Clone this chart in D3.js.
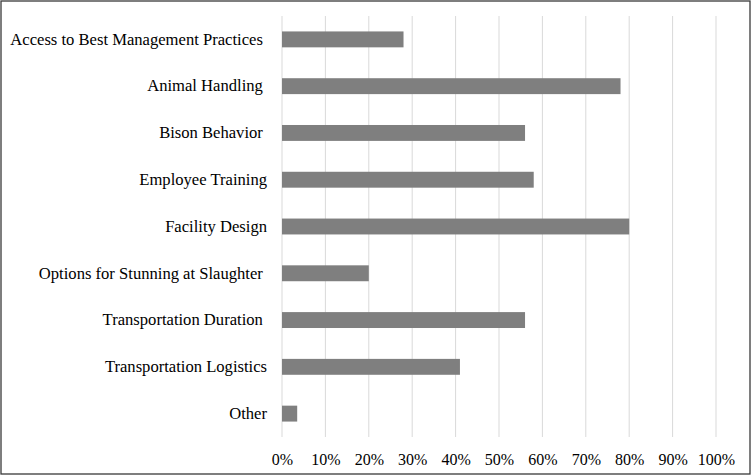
<!DOCTYPE html>
<html>
<head>
<meta charset="utf-8">
<script src="https://cdn.jsdelivr.net/npm/d3@7"></script>
<style>
  body { margin: 0; background: #fff; }
</style>
</head>
<body>
<div id="chart"></div>
<script>
var categories = [
  "Access to Best Management Practices ",
  "Animal Handling ",
  "Bison Behavior ",
  "Employee Training",
  "Facility Design",
  "Options for Stunning at Slaughter ",
  "Transportation Duration ",
  "Transportation Logistics",
  "Other"
];
var values = [0.28, 0.78, 0.56, 0.58, 0.80, 0.20, 0.56, 0.41, 0.035];
var tickValues = [0, 0.1, 0.2, 0.3, 0.4, 0.5, 0.6, 0.7, 0.8, 0.9, 1.0];

var width = 752, height = 476;
var margin = {top: 16, right: 36, bottom: 39, left: 282};
var plotW = width - margin.left - margin.right,
    plotH = height - margin.top - margin.bottom;

var svg = d3.select("#chart")
  .append("svg")
    .attr("width", width)
    .attr("height", height);

// outer frame
svg.append("rect")
    .attr("x", 1)
    .attr("y", 1)
    .attr("width", 749)
    .attr("height", 473)
    .attr("fill", "none")
    .attr("stroke", "#3a3a3a")
    .attr("stroke-width", 1.3);

var g = svg.append("g")
    .attr("transform", "translate(" + margin.left + "," + margin.top + ")");

var x = d3.scaleLinear()
  .domain([0, 1])
  .range([0, plotW]);

var y = d3.scaleBand()
  .domain(categories)
  .range([0, plotH])
  .paddingInner(0.66)
  .paddingOuter(0.33);

// gridlines
g.selectAll("line.grid")
  .data(tickValues)
  .enter()
  .append("line")
    .attr("class", "grid")
    .attr("x1", function(d) { return x(d); })
    .attr("x2", function(d) { return x(d); })
    .attr("y1", 0)
    .attr("y2", plotH)
    .attr("stroke", "#d9d9d9")
    .attr("stroke-width", 1);

// bars
g.selectAll("rect.bar")
  .data(values)
  .enter()
  .append("rect")
    .attr("class", "bar")
    .attr("x", x(0))
    .attr("y", function(d, i) { return y(categories[i]); })
    .attr("width", function(d) { return x(d) - x(0); })
    .attr("height", y.bandwidth())
    .attr("fill", "#7f7f7f");

// category labels
g.append("g")
  .call(d3.axisLeft(y).tickSize(0).tickPadding(15))
  .call(function(a) { a.select(".domain").remove(); })
  .selectAll("text")
    .style("font-family", "'Liberation Serif', 'Times New Roman', serif")
    .style("font-size", "16.6px")
    .style("white-space", "pre")
    .attr("fill", "#000");

// x axis labels
g.append("g")
  .attr("transform", "translate(0," + plotH + ")")
  .call(d3.axisBottom(x).tickValues(tickValues).tickSize(0).tickPadding(17)
    .tickFormat(d3.format(".0%")))
  .call(function(a) { a.select(".domain").remove(); })
  .selectAll("text")
    .style("font-family", "'Liberation Serif', 'Times New Roman', serif")
    .style("font-size", "16px")
    .attr("fill", "#000");
</script>
</body>
</html>
